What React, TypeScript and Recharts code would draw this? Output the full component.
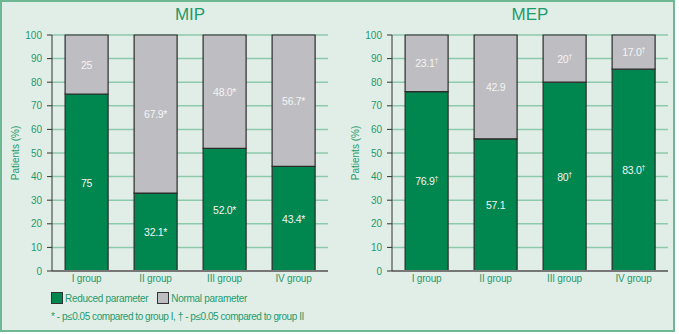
import React from 'react';
import { BarChart, Bar, XAxis, YAxis, CartesianGrid, LabelList, Label } from 'recharts';

const groups = ['I group', 'II group', 'III group', 'IV group'];
const yTicks = [0, 10, 20, 30, 40, 50, 60, 70, 80, 90, 100];

// MIP (bar heights as drawn, labels as printed)
const mipReduced = [75, 33, 52, 44.3];
const mipNormal = [25, 67, 48, 55.7];
const mipReducedLabels = ['75', '32.1*', '52.0*', '43.4*'];
const mipNormalLabels = ['25', '67.9*', '48.0*', '56.7*'];

// MEP
const mepReduced = [76, 56, 80, 85.5];
const mepNormal = [24, 44, 20, 14.5];
const mepReducedLabels = ['76.9†', '57.1', '80†', '83.0†'];
const mepNormalLabels = ['23.1†', '42.9', '20†', '17.0†'];

const GREEN = '#00874f';
const GRAY = '#bebec2';
const TEXT = '#1f9a6c';
const FONT = '"Liberation Sans", Arial, sans-serif';

if (typeof document !== 'undefined') document.body.style.margin = '0';

const buildRows = (red: number[], norm: number[], redL: string[], normL: string[]) =>
  groups.map((g, i) => ({ group: g, reduced: red[i], normal: norm[i], redLabel: redL[i], normLabel: normL[i] }));

const ValueLabel = (props: any) => {
  const { x, y, width, height, value } = props;
  const s = String(value);
  const dagger = s.endsWith('†');
  const main = dagger ? s.slice(0, -1) : s;
  return (
    <text
      x={x + width / 2}
      y={y + height / 2}
      fill="#f4f4f4"
      fontSize={10.5}
      fontFamily={FONT}
      letterSpacing={-0.3}
      textAnchor="middle"
      dominantBaseline="central"
    >
      {main}
      {dagger && (
        <tspan fontSize={7} dy={-3}>
          †
        </tspan>
      )}
    </text>
  );
};

const Panel: React.FC<{ title: string; data: any[]; width: number }> = ({ title, data, width }) => (
  <div style={{ position: 'relative', width }}>
    <div
      style={{
        position: 'absolute',
        top: 5,
        left: 52,
        width: 276,
        textAlign: 'center',
        color: TEXT,
        fontSize: 17,
        fontFamily: FONT,
      }}
    >
      {title}
    </div>
    <BarChart
      width={width}
      height={291}
      data={data}
      margin={{ top: 35, right: width - 328, left: 0, bottom: 0 }}
      barCategoryGap="19%"
      style={{ fontFamily: FONT }}
    >
      <CartesianGrid vertical={false} stroke="#8dcaab" strokeWidth={1.5} />
      <XAxis
        dataKey="group"
        tickLine={false}
        tickSize={0}
        tickMargin={4}
        axisLine={{ stroke: '#777', strokeWidth: 2 }}
        tick={{ fill: TEXT, fontSize: 10, letterSpacing: -0.2 }}
        height={20}
      />
      <YAxis
        domain={[0, 100]}
        ticks={yTicks}
        width={52}
        axisLine={{ stroke: '#333' }}
        tickLine={{ stroke: '#333' }}
        tickSize={5}
        tickMargin={5}
        tick={{ fill: TEXT, fontSize: 10 }}
        interval={0}
      >
        <Label
          value="Patients (%)"
          angle={-90}
          position="insideLeft"
          offset={15}
          style={{ textAnchor: 'middle', fill: TEXT, fontSize: 10 }}
        />
      </YAxis>
      <Bar dataKey="reduced" stackId="a" fill={GREEN} stroke="#2b2b2b" strokeWidth={1.2} isAnimationActive={false}>
        <LabelList dataKey="redLabel" content={ValueLabel} />
      </Bar>
      <Bar dataKey="normal" stackId="a" fill={GRAY} stroke="#2b2b2b" strokeWidth={1.2} isAnimationActive={false}>
        <LabelList dataKey="normLabel" content={ValueLabel} />
      </Bar>
    </BarChart>
  </div>
);

const LegendBox: React.FC<{ color: string; label: string; gap: number }> = ({ color, label, gap }) => (
  <div style={{ display: 'flex', alignItems: 'center', marginRight: gap }}>
    <div style={{ width: 10, height: 10, background: color, border: '1px solid #333', marginRight: 2 }} />
    <span>{label}</span>
  </div>
);

export default function App() {
  return (
    <div
      style={{
        position: 'relative',
        width: 675,
        height: 332,
        boxSizing: 'border-box',
        border: '2px solid #6db893',
        background: '#e1eee7',
        fontFamily: FONT,
        overflow: 'hidden',
      }}
    >
      <div style={{ position: 'absolute', left: -2, top: -2, display: 'flex' }}>
        <Panel title="MIP" data={buildRows(mipReduced, mipNormal, mipReducedLabels, mipNormalLabels)} width={340} />
        <Panel title="MEP" data={buildRows(mepReduced, mepNormal, mepReducedLabels, mepNormalLabels)} width={339} />
      </div>
      <div
        style={{
          position: 'absolute',
          left: 49,
          top: 290,
          display: 'flex',
          color: TEXT,
          fontSize: 10,
          letterSpacing: -0.3,
        }}
      >
        <LegendBox color={GREEN} label="Reduced parameter" gap={9} />
        <LegendBox color={GRAY} label="Normal parameter" gap={0} />
      </div>
      <div
        style={{
          position: 'absolute',
          left: 49,
          top: 309,
          color: TEXT,
          fontSize: 10,
          letterSpacing: -0.45,
          whiteSpace: 'nowrap',
        }}
      >
        * - p≤0.05 compared to group I, † - p≤0.05 compared to group II
      </div>
    </div>
  );
}
